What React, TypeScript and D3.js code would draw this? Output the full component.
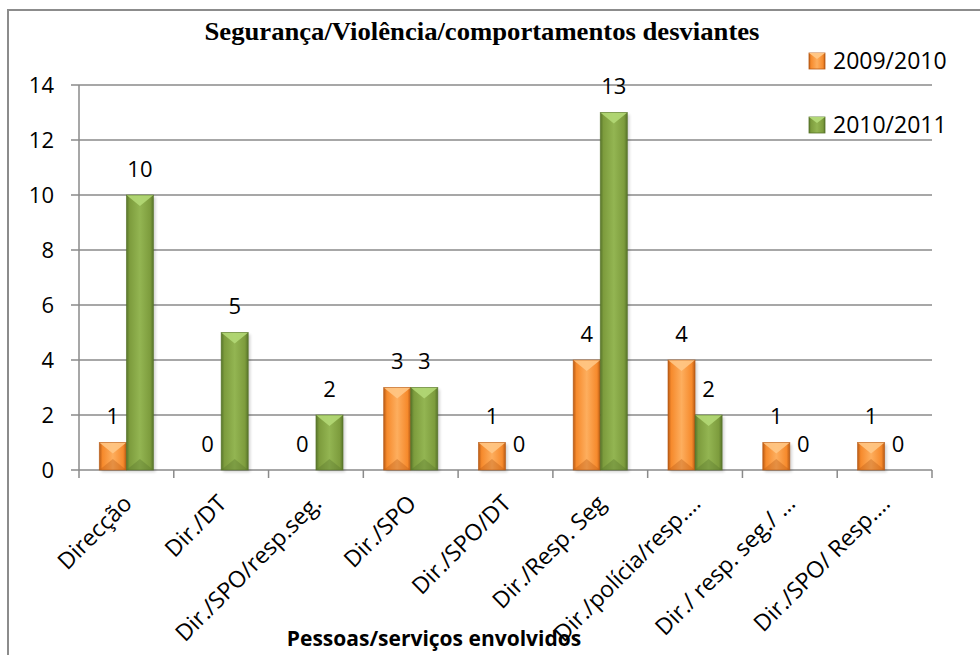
import * as d3 from 'd3';
import React from 'react';

const categories = [
  'Direcção',
  'Dir./DT',
  'Dir./SPO/resp.seg.',
  'Dir./SPO',
  'Dir./SPO/DT',
  'Dir./Resp. Seg',
  'Dir./polícia/resp.…',
  'Dir./ resp. seg./ …',
  'Dir./SPO/ Resp.…',
];
const seriesNames = ['2009/2010', '2010/2011'];
const values2009 = [1, 0, 0, 3, 1, 4, 4, 1, 1];
const values2010 = [10, 5, 2, 3, 0, 13, 2, 0, 0];
const yTicks = [0, 2, 4, 6, 8, 10, 12, 14];

const width = 980;
const height = 655;
const marginLeft = 79;
const marginRight = 48;
const marginTop = 85;
const marginBottom = 185;

const palette = [
  { id: 'or', base: '#F68A2C', light: '#FDAE5E', dark: '#B85A14', top: '#FFC685' },
  { id: 'gr', base: '#7D9C3D', light: '#93B552', dark: '#57742A', top: '#B2D876' },
];

const FONT = "'Open Sans', 'Noto Sans', sans-serif";

export default function App() {
  const x = d3
    .scaleBand()
    .domain(categories)
    .range([marginLeft, width - marginRight]);

  const y = d3
    .scaleLinear()
    .domain([0, 14])
    .range([height - marginBottom, marginTop]);

  const barW = x.bandwidth() / 3.5;
  const series = [values2009, values2010];

  const bar = (v, i, s) => {
    const cat = categories[i];
    const cx = x(cat) + x.bandwidth() / 2;
    const bx = s === 0 ? cx - barW : cx;
    const top = y(v);
    const base = y(0);
    const h = base - top;
    const c = palette[s];
    const bev = Math.min(h / 2, 11);
    return (
      <g key={`b${s}-${i}`}>
        {h > 0 && (
          <g>
            <rect x={bx + 2} y={top + 2} width={barW} height={h} fill="#000" opacity={0.18} filter="url(#soft)" />
            <rect x={bx} y={top} width={barW} height={h} fill={`url(#g-${c.id})`} />
            <polygon
              points={`${bx},${top} ${bx + barW},${top} ${bx + barW / 2},${top + bev}`}
              fill={c.top}
              opacity={0.9}
            />
            <polygon
              points={`${bx},${base} ${bx + barW},${base} ${bx + barW / 2},${base - bev}`}
              fill={c.dark}
              opacity={0.35}
            />
            <rect x={bx} y={top} width={barW} height={h} fill="none" stroke={c.dark} strokeWidth={0.8} opacity={0.7} />
          </g>
        )}
        <text
          x={bx + barW / 2}
          y={top - 26}
          dy="0.36em"
          textAnchor="middle"
          fontSize={22}
          fontFamily={FONT}
          fill="#000"
        >
          {v}
        </text>
      </g>
    );
  };

  return (
    <svg
      width={width}
      height={height}
      style={{ position: 'absolute', left: 0, top: 0, background: '#fff' }}
    >
      <defs>
        {palette.map((c) => (
          <linearGradient key={c.id} id={`g-${c.id}`} x1="0" x2="1" y1="0" y2="0">
            <stop offset="0" stopColor={c.dark} />
            <stop offset="0.12" stopColor={c.base} />
            <stop offset="0.5" stopColor={c.light} />
            <stop offset="0.88" stopColor={c.base} />
            <stop offset="1" stopColor={c.dark} />
          </linearGradient>
        ))}
        <filter id="soft" x="-20%" y="-20%" width="140%" height="140%">
          <feGaussianBlur stdDeviation="1.5" />
        </filter>
      </defs>

      {/* moldura */}
      <rect x={8} y={10} width={width + 20} height={height + 20} fill="#fff" stroke="#8c8c8c" strokeWidth={2} />

      {/* titulo */}
      <text
        x={482}
        y={40}
        textAnchor="middle"
        fontFamily="'Liberation Serif', 'Times New Roman', serif"
        fontWeight="bold"
        fontSize={25}
        textLength={555}
        lengthAdjust="spacingAndGlyphs"
      >
        Segurança/Violência/comportamentos desviantes
      </text>

      {/* grelha e eixo Y */}
      {yTicks.map((t) => (
        <g key={`t${t}`}>
          <line x1={marginLeft - 8} x2={width - marginRight} y1={y(t)} y2={y(t)} stroke="#8a8a8a" strokeWidth={1.5} />
          <text
            x={54}
            y={y(t)}
            dy="0.36em"
            textAnchor="end"
            fontSize={22}
            fontFamily={FONT}
          >
            {t}
          </text>
        </g>
      ))}
      <line x1={marginLeft} x2={marginLeft} y1={y(14)} y2={y(0) + 8} stroke="#8a8a8a" strokeWidth={1.5} />

      {/* ticks eixo X */}
      {categories.map((c) => (
        <line
          key={`xt-${c}`}
          x1={x(c) + x.bandwidth()}
          x2={x(c) + x.bandwidth()}
          y1={y(0)}
          y2={y(0) + 8}
          stroke="#8a8a8a"
          strokeWidth={1.5}
        />
      ))}

      {/* barras */}
      {series.map((vals, s) => vals.map((v, i) => bar(v, i, s)))}

      {/* categorias */}
      {categories.map((c) => {
        const cx = x(c) + x.bandwidth() / 2;
        return (
          <text
            key={`xl-${c}`}
            transform={`translate(${cx + 1},${y(0) + 29}) rotate(-45)`}
            dy="0.36em"
            textAnchor="end"
            fontSize={23}
            fontFamily={FONT}
          >
            {c}
          </text>
        );
      })}

      <text
        x={434}
        y={646}
        textAnchor="middle"
        fontSize={21}
        fontWeight="bold"
        fontFamily={FONT}
      >
        Pessoas/serviços envolvidos
      </text>

      {/* legenda */}
      {seriesNames.map((n, s) => {
        const ly = s === 0 ? 61 : 125;
        const c = palette[s];
        return (
          <g key={n}>
            <rect x={809} y={ly - 8} width={16} height={16} fill={`url(#g-${c.id})`} stroke={c.dark} strokeWidth={0.8} />
            <polygon points={`${809},${ly - 8} ${825},${ly - 8} ${817},${ly - 2}`} fill={c.top} />
            <text x={833} y={ly} dy="0.36em" fontSize={23} fontFamily={FONT}>
              {n}
            </text>
          </g>
        );
      })}
    </svg>
  );
}
